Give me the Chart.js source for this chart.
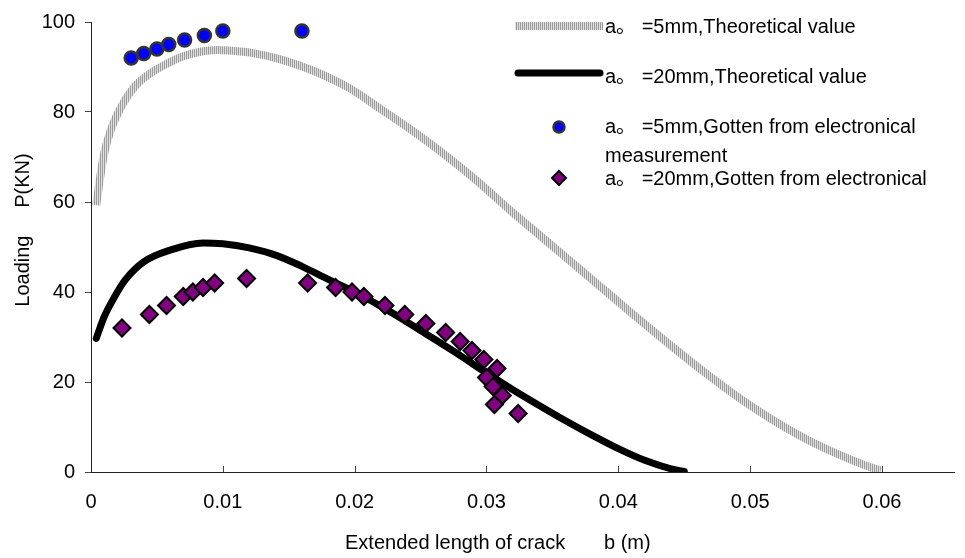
<!DOCTYPE html>
<html><head><meta charset="utf-8">
<script src="https://cdn.jsdelivr.net/npm/chart.js@4/dist/chart.umd.min.js"></script>
<style>html,body{margin:0;padding:0;background:#fff;}canvas{display:block}</style>
</head><body>
<canvas id="c" width="965" height="558"></canvas>
<script>
// ---- data ----
const theoryX5 = [0.0004,0.0007,0.001,0.0015,0.0023,0.0033,0.0045,0.0058,0.007,0.0083,0.0095,0.0108,0.0121,0.0145,0.017,0.0196,0.022,0.0242,0.0267,0.0292,0.0317,0.0342,0.0367,0.0392,0.0417,0.0442,0.0467,0.0492,0.0517,0.0542,0.0567,0.0587,0.0599];
const theoryY5 = [59.3,65.6,70.8,76,81.2,85.6,88.6,90.8,92.4,93.4,93.8,93.6,93.2,91.6,89,85.3,80.6,76.2,70.8,64.9,58.4,52.2,46.0,39.8,33.6,27.6,21.8,16.4,11.6,7.4,3.9,1.5,0.3];
const theoryX20 = [0.0004,0.001,0.0018,0.0026,0.004,0.006,0.0085,0.01,0.012,0.014,0.016,0.018,0.020,0.022,0.024,0.026,0.028,0.030,0.032,0.034,0.036,0.038,0.040,0.042,0.044,0.045];
const theoryY20 = [29.7,34.5,39,42.7,46.7,49.3,50.9,50.7,49.8,48.2,45.7,42.8,40,36.8,33.3,29.6,25.9,22,18.3,14.8,11.4,8.2,5.2,2.6,0.7,0.1];
const measX5 = [0.00305,0.0040,0.0050,0.0059,0.0071,0.0086,0.0100,0.0160];
const measY5 = [92,93,94,95,96,97,98,98];
const measX20 = [0.00235,0.00443,0.00573,0.0070,0.00773,0.0085,0.00938,0.0118,0.01643,0.01855,0.0198,0.0207,0.0223,0.0238,0.0254,0.0269,0.0280,0.0289,0.0298,0.0308,0.0300,0.0305,0.0312,0.0306,0.0324];
const measY20 = [32,35,37,39,40,41,42,43,42,41,40,39,37,35,33,31,29,27,25,23,21,19,17,15,13];
const xTicks = [0,0.01,0.02,0.03,0.04,0.05,0.06];
const yTicks = [0,20,40,60,80,100];
const seriesNames = ["a\u3002 =5mm,Theoretical value","a\u3002 =20mm,Theoretical value","a\u3002 =5mm,Gotten from electronical","measurement","a\u3002 =20mm,Gotten from electronical"];
const xTitle = "Extended length of crack       b (m)";
const yTitle = "Loading     P(KN)";

const FONT = "'Liberation Sans', Arial, 'Noto Sans CJK SC', sans-serif";
Chart.defaults.font.family = FONT;
Chart.defaults.font.size = 20;
Chart.defaults.color = '#000';

const canvas = document.getElementById('c');
const ctx = canvas.getContext('2d');
const pc = document.createElement('canvas'); pc.width = 2; pc.height = 1;
const pctx = pc.getContext('2d');
pctx.fillStyle = '#9c9c9c'; pctx.fillRect(0,0,1,1);
pctx.fillStyle = '#dedede'; pctx.fillRect(1,0,1,1);
const hatch = ctx.createPattern(pc, 'repeat');

const pts = (xs, ys) => xs.map((x,i)=>({x:x, y:ys[i]}));

const extras = {
  id: 'extras',
  afterDraw(chart) {
    const c = chart.ctx;
    const xs = chart.scales.x, ys = chart.scales.y;
    c.save();
    c.strokeStyle = '#444'; c.lineWidth = 1;
    xTicks.forEach(v => {
      if (v === 0) return;
      const px = Math.round(xs.getPixelForValue(v)) + 0.5;
      c.beginPath(); c.moveTo(px, ys.bottom); c.lineTo(px, ys.bottom - 6); c.stroke();
    });
    c.fillStyle = '#000';
    c.font = '20px ' + FONT;
    c.textBaseline = 'middle';
    c.textAlign = 'left';
    c.fillText(xTitle, 345, 543);
    c.save();
    c.translate(23, 230);
    c.rotate(-Math.PI/2);
    c.textAlign = 'center';
    c.fillText(yTitle, 0, 0);
    c.restore();
    // legend
    c.lineCap = 'butt';
    c.strokeStyle = hatch; c.lineWidth = 8;
    c.beginPath(); c.moveTo(515, 26); c.lineTo(603, 26); c.stroke();
    c.strokeStyle = '#000'; c.lineWidth = 7; c.lineCap = 'round';
    c.beginPath(); c.moveTo(518, 73); c.lineTo(600, 73); c.stroke();
    c.beginPath(); c.arc(559, 127, 5.5, 0, Math.PI*2);
    c.fillStyle = '#0000ff'; c.fill();
    c.lineWidth = 2.5; c.strokeStyle = '#333'; c.stroke();
    c.beginPath();
    c.moveTo(559-7, 178); c.lineTo(559, 178-7); c.lineTo(559+7, 178); c.lineTo(559, 178+7); c.closePath();
    c.fillStyle = '#800080'; c.fill();
    c.lineWidth = 2; c.strokeStyle = '#000'; c.stroke();
    c.fillStyle = '#000';
    c.textBaseline = 'alphabetic';
    c.textAlign = 'left';
    const bl = [33, 83, 133, 162, 185];
    seriesNames.forEach((t,i) => c.fillText(t, 605, bl[i]));
    c.restore();
  }
};

new Chart(ctx, {
  type: 'scatter',
  data: { datasets: [
    { label: seriesNames[0], data: pts(theoryX5, theoryY5), showLine: true, borderColor: hatch, backgroundColor: hatch, borderWidth: 8, pointRadius: 0, tension: 0.4, cubicInterpolationMode: 'monotone', order: 4 },
    { label: seriesNames[1], data: pts(theoryX20, theoryY20), showLine: true, borderColor: '#000', backgroundColor: '#000', borderWidth: 7, borderCapStyle: 'round', pointRadius: 0, tension: 0.4, cubicInterpolationMode: 'monotone', order: 3 },
    { label: seriesNames[2], data: pts(measX5, measY5), pointStyle: 'circle', pointRadius: 6.5, backgroundColor: '#0000ff', borderColor: '#333', borderWidth: 2.5, order: 2 },
    { label: seriesNames[4], data: pts(measX20, measY20), pointStyle: 'rectRot', pointRadius: 8.5, backgroundColor: '#800080', borderColor: '#000', borderWidth: 2, order: 1 }
  ]},
  options: {
    responsive: false, animation: false, events: [],
    layout: { padding: { top: 22, right: 0, left: 0, bottom: 0 } },
    plugins: { legend: { display: false }, tooltip: { enabled: false } },
    scales: {
      x: {
        type: 'linear', min: 0, max: 0.0655,
        afterBuildTicks: s => { s.ticks = xTicks.map(v => ({ value: v })); },
        afterFit: s => { s.height = 86; },
        grid: { display: true, drawOnChartArea: false, drawTicks: false },
        border: { display: true, color: '#222', width: 1 },
        ticks: { padding: 18, maxRotation: 0, autoSkip: false, callback: v => String(v) }
      },
      y: {
        type: 'linear', min: 0, max: 100,
        afterBuildTicks: s => { s.ticks = yTicks.map(v => ({ value: v })); },
        afterFit: s => { s.width = 91; },
        grid: { display: true, drawOnChartArea: false, drawTicks: true, tickLength: 6, color: '#444' },
        border: { display: true, color: '#222', width: 1 },
        ticks: { padding: 10, autoSkip: false }
      }
    }
  },
  plugins: [extras]
});
</script>
</body></html>
